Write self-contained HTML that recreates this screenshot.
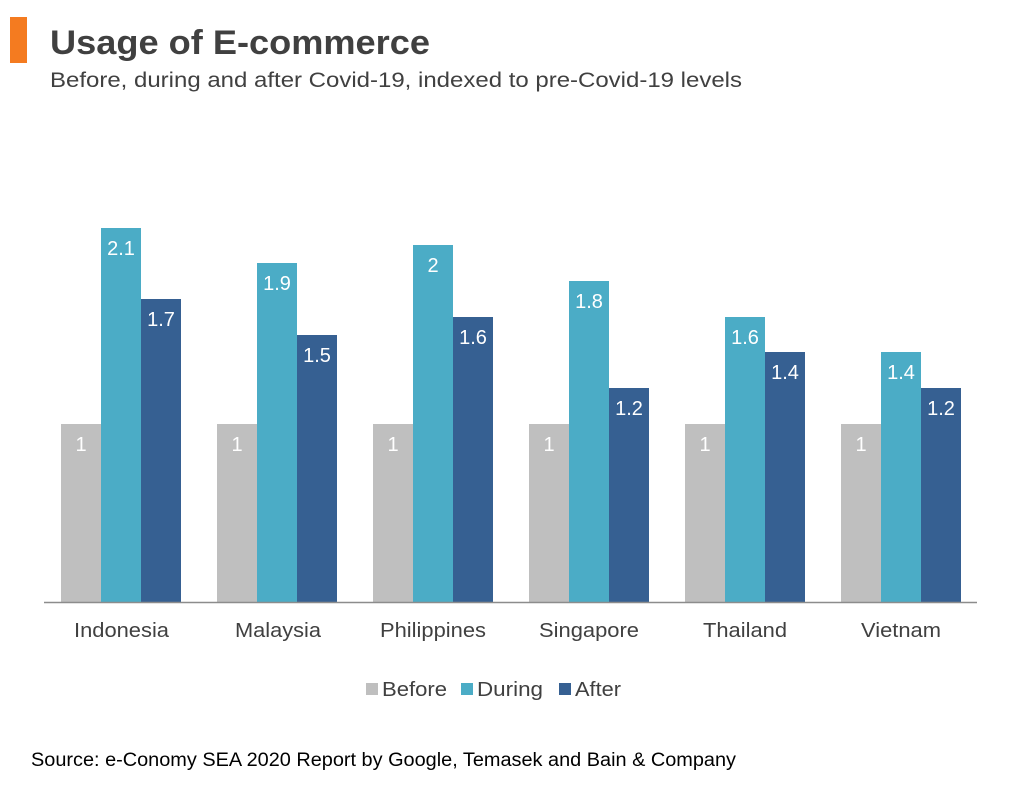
<!DOCTYPE html>
<html><head><meta charset="utf-8"><style>
body{margin:0;background:#fff;}
svg{display:block;font-family:"Liberation Sans",Arial,sans-serif;}
</style></head><body>
<svg width="1016" height="786" viewBox="0 0 1016 786">
<rect x="10" y="17" width="17" height="46" fill="#f47b20"/>
<text x="50" y="54" font-size="34" font-weight="bold" fill="#404040" textLength="380" lengthAdjust="spacingAndGlyphs">Usage of E-commerce</text>
<text x="50" y="87" font-size="21" fill="#404040" textLength="692" lengthAdjust="spacingAndGlyphs">Before, during and after Covid-19, indexed to pre-Covid-19 levels</text>
<g font-size="20" fill="#fff" text-anchor="middle">
<rect x="61" y="424" width="40" height="178" fill="#bfbfbf"/><text x="81" y="451">1</text>
<rect x="101" y="228" width="40" height="374" fill="#4bacc6"/><text x="121" y="255">2.1</text>
<rect x="141" y="299" width="40" height="303" fill="#366092"/><text x="161" y="326">1.7</text>

<rect x="217" y="424" width="40" height="178" fill="#bfbfbf"/><text x="237" y="451">1</text>
<rect x="257" y="263" width="40" height="339" fill="#4bacc6"/><text x="277" y="290">1.9</text>
<rect x="297" y="335" width="40" height="267" fill="#366092"/><text x="317" y="362">1.5</text>

<rect x="373" y="424" width="40" height="178" fill="#bfbfbf"/><text x="393" y="451">1</text>
<rect x="413" y="245" width="40" height="357" fill="#4bacc6"/><text x="433" y="272">2</text>
<rect x="453" y="317" width="40" height="285" fill="#366092"/><text x="473" y="344">1.6</text>

<rect x="529" y="424" width="40" height="178" fill="#bfbfbf"/><text x="549" y="451">1</text>
<rect x="569" y="281" width="40" height="321" fill="#4bacc6"/><text x="589" y="308">1.8</text>
<rect x="609" y="388" width="40" height="214" fill="#366092"/><text x="629" y="415">1.2</text>

<rect x="685" y="424" width="40" height="178" fill="#bfbfbf"/><text x="705" y="451">1</text>
<rect x="725" y="317" width="40" height="285" fill="#4bacc6"/><text x="745" y="344">1.6</text>
<rect x="765" y="352" width="40" height="250" fill="#366092"/><text x="785" y="379">1.4</text>

<rect x="841" y="424" width="40" height="178" fill="#bfbfbf"/><text x="861" y="451">1</text>
<rect x="881" y="352" width="40" height="250" fill="#4bacc6"/><text x="901" y="379">1.4</text>
<rect x="921" y="388" width="40" height="214" fill="#366092"/><text x="941" y="415">1.2</text>
</g>
<line x1="44" y1="602.5" x2="977" y2="602.5" stroke="#8c8c8c" stroke-width="1.5"/>
<g font-size="20" fill="#404040">
<text x="74" y="637" textLength="95" lengthAdjust="spacingAndGlyphs">Indonesia</text>
<text x="235" y="637" textLength="86" lengthAdjust="spacingAndGlyphs">Malaysia</text>
<text x="380" y="637" textLength="106" lengthAdjust="spacingAndGlyphs">Philippines</text>
<text x="539" y="637" textLength="100" lengthAdjust="spacingAndGlyphs">Singapore</text>
<text x="703" y="637" textLength="84" lengthAdjust="spacingAndGlyphs">Thailand</text>
<text x="861" y="637" textLength="80" lengthAdjust="spacingAndGlyphs">Vietnam</text>
</g>
<g font-size="20" fill="#404040">
<rect x="366" y="683" width="12" height="12" fill="#bfbfbf"/><text x="382" y="696" textLength="65" lengthAdjust="spacingAndGlyphs">Before</text>
<rect x="461" y="683" width="12" height="12" fill="#4bacc6"/><text x="477" y="696" textLength="66" lengthAdjust="spacingAndGlyphs">During</text>
<rect x="559" y="683" width="12" height="12" fill="#366092"/><text x="575" y="696" textLength="46" lengthAdjust="spacingAndGlyphs">After</text>
</g>
<text x="31" y="766" font-size="19" fill="#000" textLength="705" lengthAdjust="spacingAndGlyphs">Source: e-Conomy SEA 2020 Report by Google, Temasek and Bain &amp; Company</text>
</svg>
</body></html>
